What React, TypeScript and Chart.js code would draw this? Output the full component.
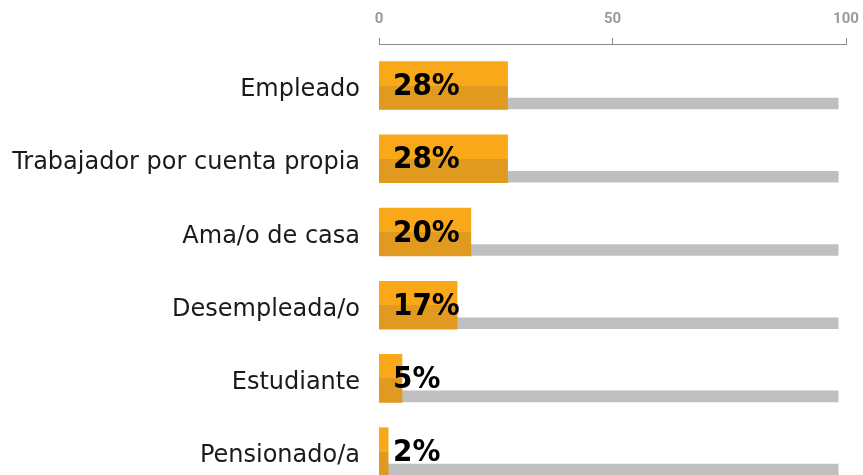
import React, { useEffect, useRef } from "react";
import { Chart, registerables } from "chart.js";

Chart.register(...registerables);

const categories = [
  "Empleado",
  "Trabajador por cuenta propia",
  "Ama/o de casa",
  "Desempleada/o",
  "Estudiante",
  "Pensionado/a",
];
const percentages = [28, 28, 20, 17, 5, 2];
const trackValues = [100, 100, 100, 100, 100, 100];
const axisTicks = [0, 50, 100];

const LIGHT = "#F9A81A";
const DARK = "#E09A20";
const TRACK = "#BFBFBF";

const pctLabels = {
  id: "pctLabels",
  afterDatasetsDraw(chart: any) {
    const meta = chart.getDatasetMeta(0);
    const ctx = chart.ctx;
    const x0 = chart.scales.x2.getPixelForValue(0);
    ctx.save();
    ctx.font = 'bold 31px "DejaVu Sans Condensed", "DejaVu Sans"';
    ctx.fillStyle = "#000";
    ctx.textAlign = "left";
    ctx.textBaseline = "middle";
    meta.data.forEach((el: any, i: number) => {
      ctx.fillText(percentages[i] + "%", x0 + 14, el.y + 1.5);
    });
    ctx.restore();
  },
};

export default function App() {
  const ref = useRef<HTMLCanvasElement | null>(null);

  useEffect(() => {
    if (!ref.current) return;
    const half = 24;
    const chart = new Chart(ref.current, {
      type: "bar",
      data: {
        datasets: [
          {
            data: percentages.map((v, i) => ({ x: v, y: i })),
            xAxisID: "x2",
            yAxisID: "y",
            grouped: false,
            barThickness: 48,
            borderWidth: 0,
            backgroundColor: (c: any) => {
              const ch = c.chart;
              const ys = ch.scales && ch.scales.y;
              if (!ys || c.type !== "data" || !c.parsed) return LIGHT;
              const mid = ys.getPixelForValue(c.parsed.y);
              if (!isFinite(mid)) return LIGHT;
              const g = ch.ctx.createLinearGradient(0, mid - half, 0, mid + half);
              g.addColorStop(0, LIGHT);
              g.addColorStop(0.5, LIGHT);
              g.addColorStop(0.5, DARK);
              g.addColorStop(1, DARK);
              return g;
            },
          } as any,
          {
            data: trackValues.map((v, i) => ({ x: v, y: i + 0.246 })),
            xAxisID: "x2",
            yAxisID: "y",
            grouped: false,
            barThickness: 11,
            borderWidth: 0,
            backgroundColor: TRACK,
          } as any,
        ],
      },
      options: {
        indexAxis: "y",
        responsive: false,
        maintainAspectRatio: false,
        animation: false,
        devicePixelRatio: 1,
        layout: { padding: { top: 0, right: 17, left: 0, bottom: 0 } },
        plugins: { legend: { display: false }, tooltip: { enabled: false } },
        scales: {
          x: {
            type: "linear",
            position: "top",
            min: 0,
            max: 100,
            afterBuildTicks: (s: any) => {
              s.ticks = axisTicks.map((v) => ({ value: v }));
            },
            afterFit: (s: any) => {
              s.paddingLeft = 0;
              s.paddingRight = 0;
            },
            grid: {
              drawOnChartArea: false,
              drawTicks: true,
              tickLength: 6,
              color: "#8c8c8c",
              lineWidth: 1,
            },
            border: { display: true, color: "#8c8c8c", width: 1 },
            ticks: {
              color: "#9b9b9b",
              font: { family: "Roboto", size: 15, weight: "bold" },
              padding: 10,
              maxRotation: 0,
            },
          },
          x2: {
            type: "linear",
            position: "top",
            display: false,
            min: 0,
            max: 101.7,
          },
          y: {
            type: "linear",
            reverse: true,
            offset: false,
            min: -0.567,
            max: 5.66,
            afterBuildTicks: (s: any) => {
              s.ticks = categories.map((_, i) => ({ value: i }));
            },
            afterFit: (s: any) => {
              s.width = 379;
              s.paddingTop = 0;
              s.paddingBottom = 0;
            },
            grid: { display: false, drawTicks: false, offset: false },
            border: { display: false },
            ticks: {
              callback: (v: any) => categories[v as number],
              color: "#1a1a1a",
              font: { family: "DejaVu Sans", size: 24 },
              padding: 19,
              labelOffset: 4.5,
              autoSkip: false,
            },
          },
        },
      } as any,
      plugins: [pctLabels],
    });
    return () => chart.destroy();
  }, []);

  return (
    <div
      style={{
        position: "fixed",
        left: 0,
        top: 0,
        width: 863,
        height: 475,
        overflow: "hidden",
        background: "#fff",
      }}
    >
      <canvas
        ref={ref}
        width={863}
        height={500}
        style={{ display: "block", width: 863, height: 500 }}
      />
    </div>
  );
}
